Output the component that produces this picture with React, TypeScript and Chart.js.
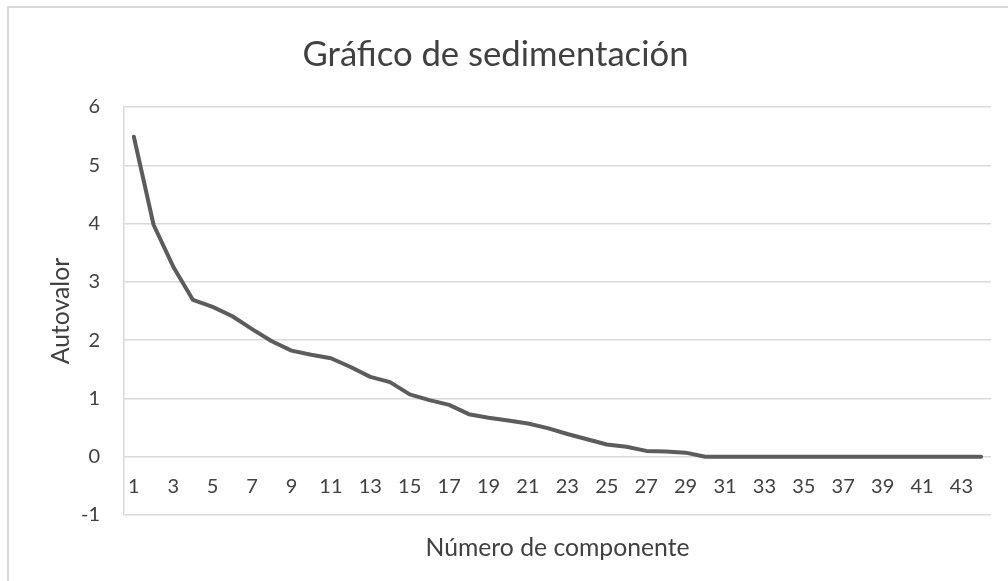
import React, { useEffect, useRef } from "react";
import { Chart, registerables } from "chart.js";

Chart.register(...registerables);

const categories = [
  "1", "2", "3", "4", "5", "6", "7", "8", "9", "10", "11",
  "12", "13", "14", "15", "16", "17", "18", "19", "20", "21", "22",
  "23", "24", "25", "26", "27", "28", "29", "30", "31", "32", "33",
  "34", "35", "36", "37", "38", "39", "40", "41", "42", "43", "44",
];

const eigenvalues = [
  5.49, 3.98, 3.26, 2.69, 2.57, 2.41, 2.19, 1.98, 1.82, 1.75, 1.69,
  1.54, 1.37, 1.28, 1.07, 0.97, 0.89, 0.73, 0.67, 0.62, 0.57, 0.49,
  0.39, 0.3, 0.21, 0.17, 0.1, 0.09, 0.07, 0, 0, 0, 0, 0,
  0, 0, 0, 0, 0, 0, 0, 0, 0, 0,
];

const yMin = -1;
const yMax = 6;
const yStep = 1;

const chartTitle = "Gráfico de sedimentación";
const xAxisTitle = "Número de componente";
const yAxisTitle = "Autovalor";

const FONT = "Lato, 'Open Sans', sans-serif";
const TEXT = "#404040";
const GRID = "#d9d9d9";

function fitFont(text: string, target: number): number {
  const ctx = document.createElement("canvas").getContext("2d")!;
  ctx.font = `100px ${FONT}`;
  const w = ctx.measureText(text).width;
  return (100 * target) / w;
}

export default function App() {
  const ref = useRef<HTMLCanvasElement | null>(null);

  useEffect(() => {
    if (!ref.current) return;
    const titleSize = fitFont(chartTitle, 386);
    const axisTitleSize = fitFont(xAxisTitle, 264);
    const titleLH = titleSize * 1.2;
    const axLH = axisTitleSize * 1.2;

    const chart = new Chart(ref.current, {
      type: "line",
      data: {
        labels: categories,
        datasets: [
          {
            data: eigenvalues,
            borderColor: "#5c5c5c",
            backgroundColor: "#5c5c5c",
            borderWidth: 4,
            pointRadius: 0,
            tension: 0,
            borderJoinStyle: "round",
            borderCapStyle: "round",
            xAxisID: "x",
            yAxisID: "y",
          },
        ],
      },
      options: {
        animation: false,
        responsive: false,
        maintainAspectRatio: false,
        layout: { padding: { left: 0, right: 17, top: 0, bottom: 0 } },
        plugins: {
          legend: { display: false },
          tooltip: { enabled: false },
          title: {
            display: true,
            text: chartTitle,
            color: TEXT,
            font: { family: FONT, size: titleSize, weight: "normal" },
            padding: { top: 55 - titleLH / 2, bottom: 107 - (55 + titleLH / 2) },
          },
        },
        scales: {
          y: {
            type: "linear",
            position: "left",
            min: yMin,
            max: yMax,
            ticks: {
              stepSize: yStep,
              color: TEXT,
              font: { family: FONT, size: 20 },
              padding: 24,
            },
            grid: { color: GRID, lineWidth: 1.5, drawTicks: false },
            border: { display: true, color: GRID, width: 1.5 },
            title: {
              display: true,
              text: yAxisTitle,
              color: TEXT,
              font: { family: FONT, size: axisTitleSize },
              padding: { top: 61 - axLH / 2, bottom: 0 },
            },
            afterFit: (scale: any) => {
              scale.width = 124;
            },
          },
          x: {
            type: "category",
            position: { y: 0 } as any,
            offset: true,
            grid: { display: false, drawTicks: false },
            border: { display: false },
            ticks: {
              color: TEXT,
              font: { family: FONT, size: 20 },
              autoSkip: false,
              maxRotation: 0,
              minRotation: 0,
              padding: 18,
              callback: (_v: any, i: number) => (i % 2 === 0 ? categories[i] : ""),
            },
            afterFit: (scale: any) => {
              scale.height = 0;
            },
          },
          x2: {
            type: "category",
            axis: "x",
            position: "bottom",
            offset: true,
            labels: categories,
            grid: { display: false, drawTicks: false },
            border: { display: false },
            ticks: { display: false },
            title: {
              display: true,
              text: xAxisTitle,
              color: TEXT,
              font: { family: FONT, size: axisTitleSize },
              padding: { top: 0, bottom: 33 - axLH / 2 },
            },
            afterFit: (scale: any) => {
              scale.height = 581 - 515;
            },
          },
        },
      } as any,
    });
    return () => chart.destroy();
  }, []);

  return (
    <div
      style={{
        position: "absolute",
        left: 0,
        top: 0,
        width: 1008,
        height: 581,
        overflow: "hidden",
        background: "#ffffff",
      }}
    >
      <div
        style={{
          position: "absolute",
          left: 7,
          top: 6,
          width: 1100,
          height: 700,
          borderLeft: `2px solid ${GRID}`,
          borderTop: `2px solid ${GRID}`,
        }}
      />
      <canvas
        ref={ref}
        width={1008}
        height={581}
        style={{ position: "absolute", left: 0, top: 0, width: 1008, height: 581 }}
      />
    </div>
  );
}
